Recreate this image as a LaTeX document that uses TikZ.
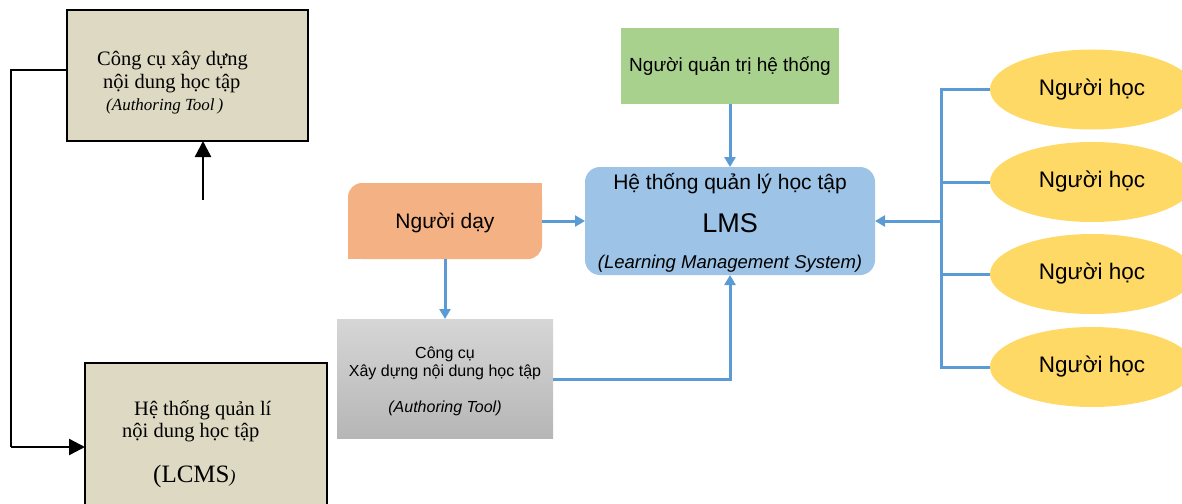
\documentclass[tikz,border=0pt]{standalone}
\usepackage{fontspec}
\setmainfont{Liberation Serif}
\newfontfamily\sansf{Liberation Sans}
\usetikzlibrary{arrows.meta,shapes.geometric}
\definecolor{beige}{HTML}{DDD9C3}
\definecolor{lineblue}{HTML}{5B9BD5}
\definecolor{lmsblue}{HTML}{9DC3E6}
\definecolor{admgreen}{HTML}{A9D18E}
\definecolor{teachor}{HTML}{F4B183}
\definecolor{learnyel}{HTML}{FFD966}
\definecolor{graytop}{HTML}{D6D6D6}
\definecolor{graybot}{HTML}{B6B6B6}
\begin{document}
\begin{tikzpicture}[x=1pt,y=-1pt,
  boxn/.style={rectangle, inner sep=0pt, outer sep=0pt, anchor=north west},
  serifbox/.style={boxn, fill=beige, draw=black, line width=2.4pt},
  sertxt/.style={inner sep=0pt, anchor=base west, font=\fontsize{20.5}{24}\selectfont},
  sanstxt/.style={inner sep=0pt, anchor=base, font=\sansf\fontsize{16}{19}\selectfont},
  lmstxt/.style={inner sep=0pt, anchor=base, font=\sansf\fontsize{21}{25}\selectfont},
  blkline/.style={draw=black, line width=2.4pt},
  blkarrow/.style={blkline, -{Triangle[length=16pt,width=16pt]}},
  bline/.style={draw=lineblue, line width=3pt},
  barrow/.style={bline, -{Triangle[length=10pt,width=11pt]}},
  learner/.style={ellipse, fill=learnyel, inner sep=0pt, outer sep=0pt,
     minimum width=204pt, minimum height=80pt, font=\sansf\fontsize{22.5}{26}\selectfont}
]
\useasboundingbox (0,0) rectangle (1182,503);
\clip (0,0) rectangle (1182,503);

% ---- left (serif) part ----
\node[serifbox, minimum width=241pt, minimum height=131pt] (ct) at (67,10) {};
\node[sertxt] (ct1) at (97,65) {Công cụ xây dựng};
\node[sertxt] (ct2) at (103,88) {nội dung học tập};
\node[sertxt, font=\fontsize{17}{20}\selectfont\itshape] (ct3) at (106,110) {(Authoring Tool\,)};

\node[serifbox, minimum width=242pt, minimum height=200pt] (lcms) at (85,363) {};
\node[sertxt] (lc1) at (134,415) {Hệ thống quản lí};
\node[sertxt] (lc2) at (122,437) {nội dung học tập};
\node[sertxt, font=\fontsize{25}{28}\selectfont] (lc3) at (153,482) {(LCMS{\fontsize{18}{20}\selectfont\itshape )}};

\coordinate (ta) at (203,200);
\draw[blkarrow] (ta) -- (ta |- ct.south);

\coordinate (lt) at (11,70);
\coordinate (lb) at (11,447);
\draw[blkline] (ct.west |- lt) -- (lt) -- (lb);
\draw[blkarrow] (lb) -- (lb -| lcms.west);

% ---- right (coloured) part ----
\node[boxn, fill=admgreen, minimum width=218pt, minimum height=76pt,
      anchor=center, font=\sansf\fontsize{19}{23}\selectfont] (qt) at (730,66) {Người quản trị hệ thống};

\node[boxn, fill=lmsblue, rounded corners=15pt, minimum width=290pt, minimum height=108pt] (lms) at (585,167) {};
\node[lmstxt] (lms1) at (730,189) {Hệ thống quản lý học tập};
\node[lmstxt, font=\sansf\fontsize{27}{31}\selectfont] (lms2) at (730,232) {LMS};
\node[lmstxt, font=\sansf\itshape\fontsize{18.5}{22}\selectfont] (lms3) at (730,268) {(Learning Management System)};

\node[boxn, fill=teachor, rounded corners=14pt, minimum width=194pt, minimum height=76pt] (nd) at (348,183) {};
\fill[teachor] (nd.north east) rectangle ++(-20,20);
\fill[teachor] (nd.south west) rectangle ++(20,-20);
\node[lmstxt] (ndt) at (445,228) {Người dạy};

\node[boxn, top color=graytop, bottom color=graybot, minimum width=216pt, minimum height=119pt] (gt) at (337,319) {};
\node[sanstxt] (gt1) at (445,358) {Công cụ};
\node[sanstxt] (gt2) at (445,376) {Xây dựng nội dung học tập};
\node[sanstxt, font=\sansf\itshape\fontsize{16}{19}\selectfont] (gt3) at (445,412) {(Authoring Tool)};

\node[learner] (h1) at (1092,89.5) {Người học};
\node[learner] (h2) at (1092,182) {Người học};
\node[learner] (h3) at (1092,274) {Người học};
\node[learner] (h4) at (1092,367) {Người học};

% blue connectors
\draw[barrow] (qt.south) -- (lms.north);
\draw[barrow] (nd.east) -- (lms.west);
\draw[barrow] (nd.south) -- (gt.north);
\draw[barrow] (gt.east |- 0,379) -| (lms.south);

\coordinate (bus) at (941,222);
\draw[bline] (h1.west) -- (h1.west -| bus) -- (h4.west -| bus) -- (h4.west);
\draw[bline] (h2.west) -- (h2.west -| bus);
\draw[bline] (h3.west) -- (h3.west -| bus);
\draw[barrow] (bus |- lms.east) -- (lms.east);
\end{tikzpicture}
\end{document}
